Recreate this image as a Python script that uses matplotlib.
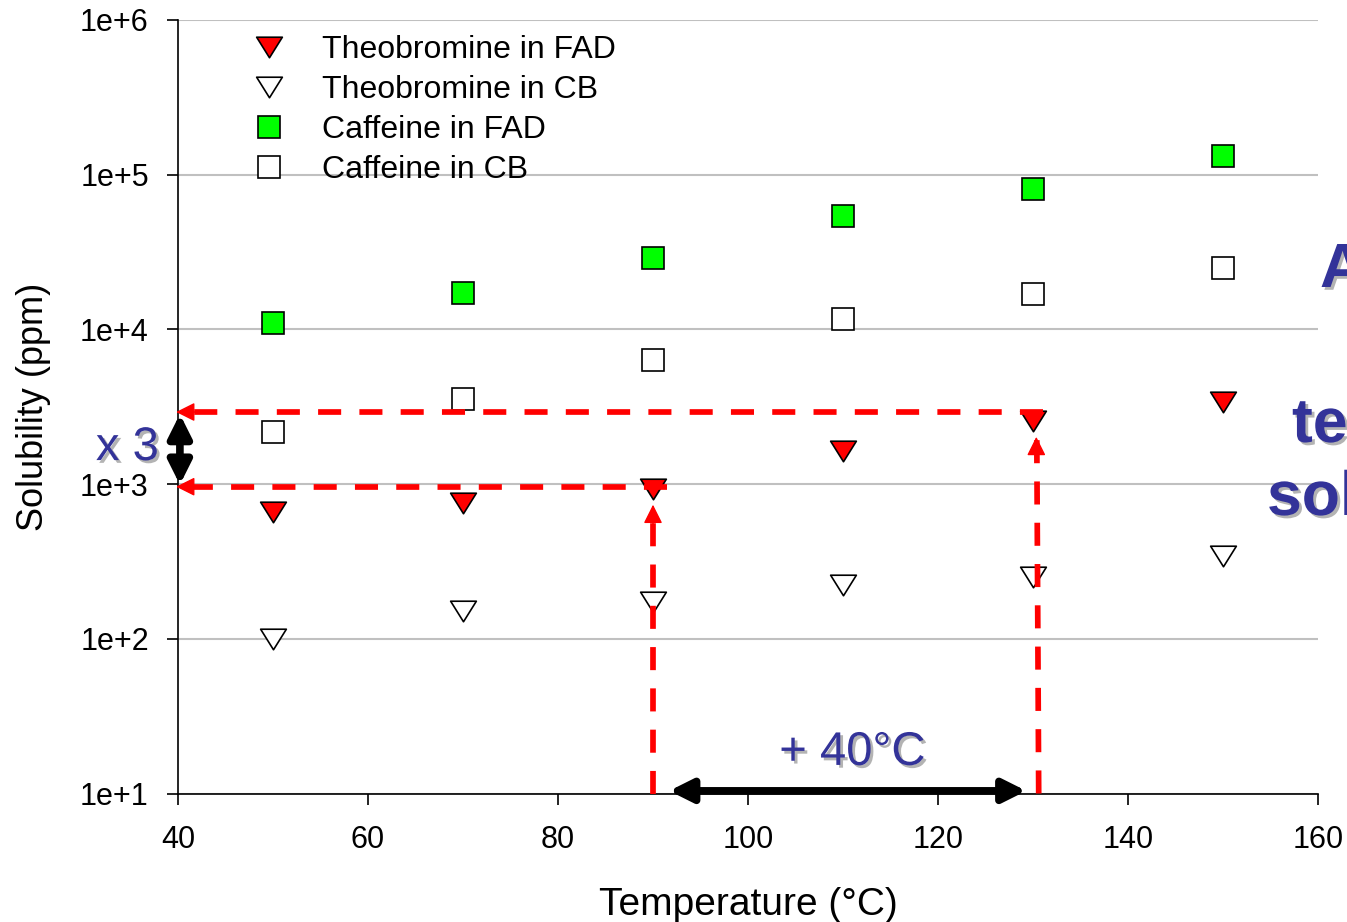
import matplotlib
matplotlib.use("Agg")
import matplotlib.pyplot as plt
import matplotlib.patheffects as pe
from matplotlib.path import Path
from matplotlib.ticker import FixedLocator, NullLocator

# solubility (ppm) vs temperature (degC)
temperature = [50, 70, 90, 110, 130, 150]
theo_fad = [660, 755, 930, 1640, 2560, 3400]
theo_cb = [100, 151, 174, 224, 251, 343]
caf_fad = [11000, 17200, 29000, 54000, 81000, 132000]
caf_cb = [2180, 3560, 6360, 11700, 17000, 24900]

series_names = ["Theobromine in FAD", "Theobromine in CB",
                "Caffeine in FAD", "Caffeine in CB"]

xticks = [40, 60, 80, 100, 120, 140, 160]
yticks = [1e1, 1e2, 1e3, 1e4, 1e5, 1e6]
ytick_labels = ["1e+1", "1e+2", "1e+3", "1e+4", "1e+5", "1e+6"]

# the "x 3 / + 40 degC" comparison drawn over the chart
t_low, t_high = 90, 130
sol_low, sol_high = 962, 2924
factor_text = "x 3"
shift_text = "+ 40°C"
side_text = ["A", "te", "sol"]

plt.rcParams["font.family"] = ["Liberation Sans", "DejaVu Sans"]

W, H = 1347, 922
fig = plt.figure(figsize=(W / 100, H / 100), dpi=100)
ax = fig.add_axes([178 / W, 1 - 793.5 / H, 1140 / W, 773.5 / H])
ax.set_yscale("log")
ax.set_xlim(40, 160)
ax.set_ylim(10, 1e6)

tri = Path([(-1, .8), (1, .8), (0, -.8), (-1, .8)],
           [Path.MOVETO, Path.LINETO, Path.LINETO, Path.CLOSEPOLY])
mk = dict(ls="none", mec="black", mew=1.2, zorder=3)
ax.plot(temperature, theo_fad, marker=tri, ms=18.5, mfc="#ff0000", label=series_names[0], **mk)
ax.plot(temperature, theo_cb, marker=tri, ms=18.5, mfc="white", label=series_names[1], **mk)
ax.plot(temperature, caf_fad, marker="s", ms=15.5, mfc="#00ff00", label=series_names[2], **mk)
ax.plot(temperature, caf_cb, marker="s", ms=15.5, mfc="white", label=series_names[3], **mk)

ax.xaxis.set_major_locator(FixedLocator(xticks))
ax.yaxis.set_major_locator(FixedLocator(yticks))
ax.yaxis.set_minor_locator(NullLocator())
ax.set_yticklabels(ytick_labels)
ax.yaxis.grid(True, which="major", color="#c0c0c0", lw=1.5)
ax.set_axisbelow(True)
for s in ["top", "right"]:
  ax.spines[s].set_visible(False)
for s in ["left", "bottom"]:
  ax.spines[s].set_linewidth(1.2)
ax.tick_params(axis="both", direction="out", length=8, width=1.2, labelsize=22)
ax.tick_params(axis="x", pad=15)
ax.tick_params(axis="y", pad=13)

ax.set_xlabel("Temperature (°C)", fontsize=28)
ax.xaxis.set_label_coords(0.5, -0.121)
ax.set_ylabel("Solubility (ppm)", fontsize=26)
ax.yaxis.set_label_coords(-0.111, 0.5)

ax.legend(loc="upper left", bbox_to_anchor=(237 / W, 1 - 35 / H),
          bbox_transform=fig.transFigure, frameon=False, fontsize=23,
          handlelength=2.0, handletextpad=0.65, labelspacing=0.31,
          borderpad=0, borderaxespad=0, numpoints=1)

# red dashed guides with small solid heads
red = "#ff0000"
red_kw = dict(color=red, lw=4.1, ls=(0, (4.05, 3.2)), zorder=5, dash_capstyle="butt")
head_kw = dict(arrowstyle="-|>", color=red, lw=1, mutation_scale=29, shrinkA=0, shrinkB=0)

ax.plot([t_high + 1, 40.9], [sol_high] * 2, **red_kw)
ax.annotate("", xy=(39.8, sol_high), xytext=(14, 0), textcoords="offset points",
            arrowprops=head_kw, annotation_clip=False, zorder=6)
ax.plot([t_low + 1.5, 40.9], [sol_low] * 2, **red_kw)
ax.annotate("", xy=(39.8, sol_low), xytext=(14, 0), textcoords="offset points",
            arrowprops=head_kw, annotation_clip=False, zorder=6)

ax.plot([t_low, t_low], [10, 700], **red_kw)
ax.annotate("", xy=(t_low, 736), xytext=(0, -14), textcoords="offset points",
            arrowprops=head_kw, zorder=6)
ax.plot([t_high + 0.6, t_high + 0.4], [10, 1950], **red_kw)
ax.annotate("", xy=(t_high + 0.35, 2020), xytext=(0, -14), textcoords="offset points",
            arrowprops=head_kw, zorder=6)

# black double arrows
blk_kw = dict(arrowstyle="<|-|>", color="black", lw=5.5, mutation_scale=34, shrinkA=0, shrinkB=0)
ax.annotate("", xy=(40.2, sol_high * 0.97), xytext=(40.2, sol_low * 1.03), arrowprops=blk_kw,
            annotation_clip=False, zorder=7)
ax.annotate("", xy=(129.3, 10.4), xytext=(91.7, 10.4), arrowprops=blk_kw,
            annotation_clip=False, zorder=7)

blue = "#333399"
shadow = [pe.withSimplePatchShadow(offset=(2, -2), shadow_rgbFace="#a0a0a0", alpha=0.8)]
ax.text(38.0, 1430, factor_text, fontsize=34, color=blue, ha="right", va="baseline",
        clip_on=False, path_effects=shadow)
ax.text(111, 15.3, shift_text, fontsize=34, color=blue, ha="center", va="baseline",
        path_effects=shadow)

for txt, (px, py) in zip(side_text, [(1320, 287), (1292, 442), (1267, 515)]):
  fig.text(px / W, 1 - py / H, txt, fontsize=45, fontweight="bold", color=blue,
           ha="left", va="baseline", path_effects=shadow)

fig.savefig("out.png", dpi=100)
